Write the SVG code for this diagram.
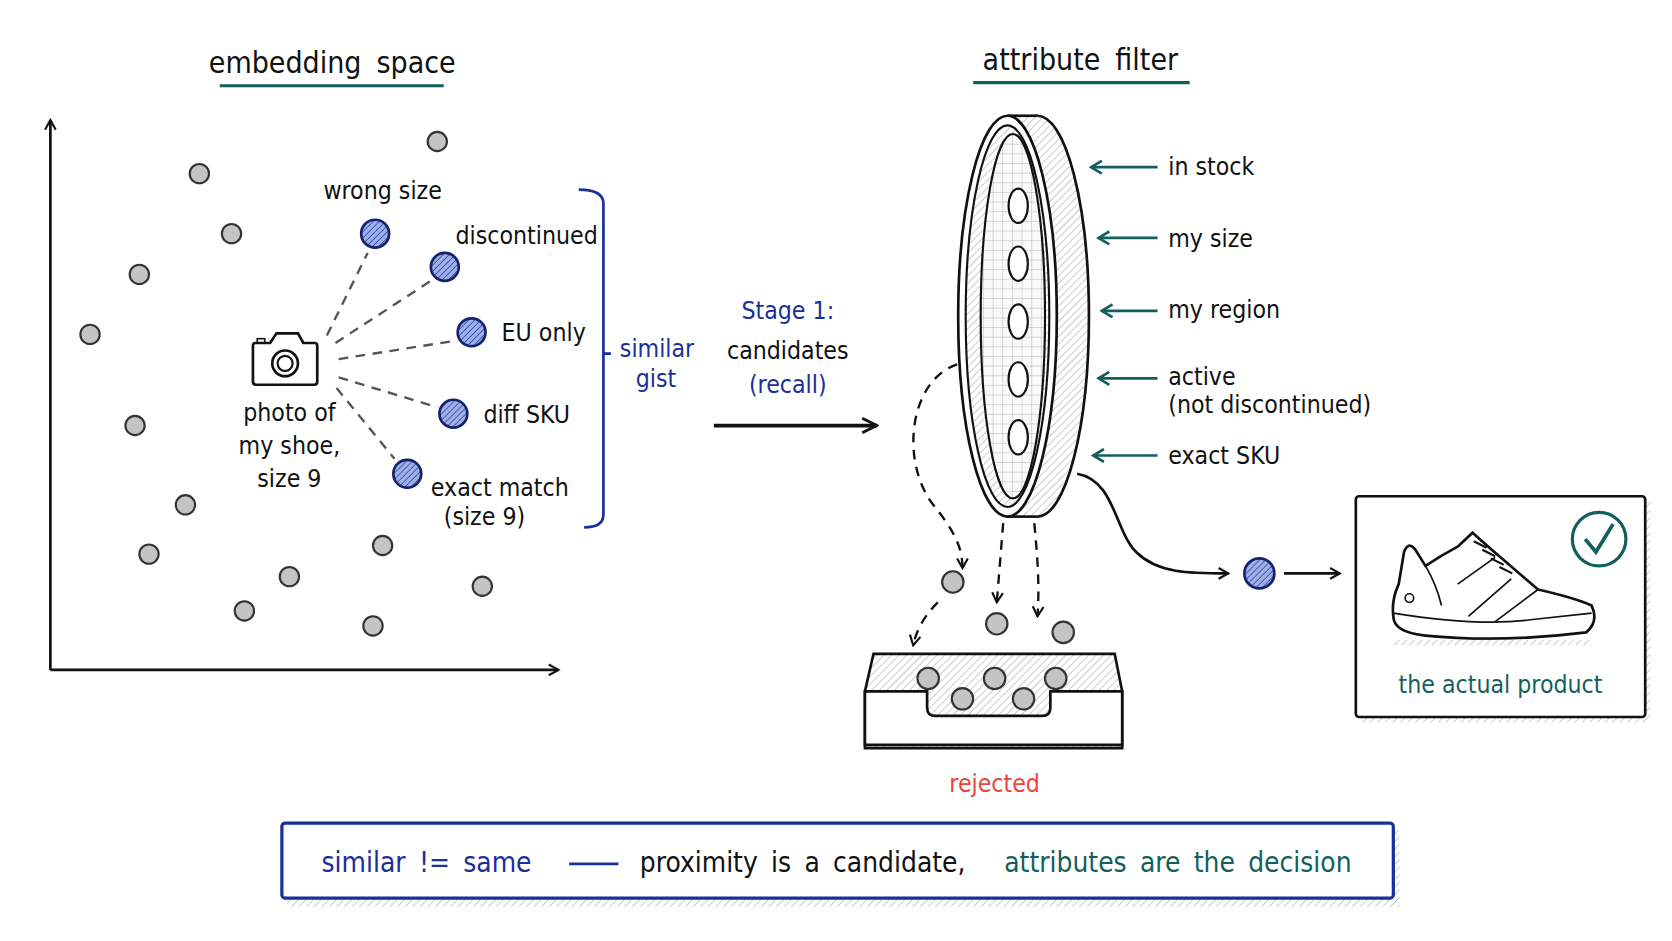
<svg xmlns="http://www.w3.org/2000/svg" width="1672" height="941" viewBox="0 0 1672 941">
<style>
text{font-family:"DejaVu Sans Condensed","Liberation Sans Narrow","Liberation Sans",sans-serif;font-size:23px;fill:#111}
.blue{fill:#1a2f9a}.teal{fill:#135f5c}.red{fill:#e8453c}
.gdot{fill:#c4c4c4;stroke:#333;stroke-width:2}
.bdot{fill:url(#hb);stroke:#14236b;stroke-width:2.5}
.dash{stroke:#555;stroke-width:2.2;stroke-dasharray:9 7;fill:none}
.kdash{stroke:#111;stroke-width:2.2;stroke-dasharray:9 7;fill:none}
.ln{stroke:#111;stroke-width:2.5;fill:none}
.tarr{stroke:#135f5c;stroke-width:2.5;fill:none;marker-end:url(#mt)}
.big{font-size:28px;word-spacing:6px}
.sum{font-size:26px;word-spacing:5px}
</style>
<defs>
<pattern id="hb" width="4" height="4" patternUnits="userSpaceOnUse" patternTransform="rotate(45)"><rect width="4" height="4" fill="#9fb0e8"/><line x1="0" y1="0" x2="0" y2="4" stroke="#1a2f9a" stroke-width="1.2"/></pattern>
<pattern id="hg" width="5" height="5" patternUnits="userSpaceOnUse" patternTransform="rotate(45)"><rect width="5" height="5" fill="#fff"/><line x1="0" y1="0" x2="0" y2="5" stroke="#888" stroke-width="0.8"/></pattern>
<pattern id="grid" width="9" height="9" patternUnits="userSpaceOnUse"><rect width="9" height="9" fill="#fafafa"/><path d="M9 0V9M0 9H9" stroke="#999" stroke-width="0.7"/></pattern>
<marker id="mk" viewBox="0 0 12 12" refX="10" refY="6" markerWidth="12" markerHeight="12" markerUnits="userSpaceOnUse" orient="auto"><path d="M1 1L10 6L1 11" fill="none" stroke="#111" stroke-width="2"/></marker>
<marker id="mbig" viewBox="0 0 16 16" refX="14" refY="8" markerWidth="18" markerHeight="18" markerUnits="userSpaceOnUse" orient="auto"><path d="M2 2L14 8L2 14" fill="none" stroke="#111" stroke-width="2.5"/></marker>
<marker id="mt" viewBox="0 0 14 14" refX="12" refY="7" markerWidth="14" markerHeight="14" markerUnits="userSpaceOnUse" orient="auto"><path d="M2 1L12 7L2 13" fill="none" stroke="#135f5c" stroke-width="2.5"/></marker>
</defs>
<rect width="1672" height="941" fill="#fff"/>
<g transform="scale(1.0718)">
<g id="titles">
<text x="310" y="68" text-anchor="middle" class="big" font-size="30">embedding space</text>
<line x1="205" y1="80" x2="414" y2="80" stroke="#135f5c" stroke-width="3"/>
<text x="1008" y="65" text-anchor="middle" class="big" font-size="30">attribute filter</text>
<line x1="908" y1="77" x2="1110" y2="77" stroke="#135f5c" stroke-width="3"/>
</g>
<g id="axes">
<line class="ln" x1="47" y1="625" x2="47" y2="112" marker-end="url(#mk)"/>
<line class="ln" x1="47" y1="625" x2="521" y2="625" marker-end="url(#mk)"/>
</g>
<g id="connectors">
<line class="dash" x1="305" y1="313" x2="343" y2="236"/>
<line class="dash" x1="313" y1="320" x2="402" y2="262"/>
<line class="dash" x1="316" y1="335" x2="424" y2="318"/>
<line class="dash" x1="316" y1="352" x2="408" y2="380"/>
<line class="dash" x1="314" y1="362" x2="368" y2="428"/>
<line x1="666" y1="397" x2="818" y2="397" stroke="#111" stroke-width="3.5" marker-end="url(#mbig)"/>
<line class="tarr" x1="1080" y1="156" x2="1018" y2="156"/>
<line class="tarr" x1="1080" y1="222" x2="1025" y2="222"/>
<line class="tarr" x1="1080" y1="290" x2="1028" y2="290"/>
<line class="tarr" x1="1080" y1="353" x2="1025" y2="353"/>
<line class="tarr" x1="1080" y1="425" x2="1020" y2="425"/>
<path class="kdash" d="M893 340 C848 355 840 430 870 470 C890 495 898 510 898 530" marker-end="url(#mk)"/>
<path class="kdash" d="M936 488 L930 562" marker-end="url(#mk)"/>
<path class="kdash" d="M965 488 C968 520 970 545 968 575" marker-end="url(#mk)"/>
<path class="kdash" d="M875 562 C862 575 855 588 852 602" marker-end="url(#mk)"/>
<path class="ln" d="M1005 442 C1040 448 1040 495 1060 515 C1080 535 1110 535 1146 535" marker-end="url(#mk)"/>
<line class="ln" x1="1198" y1="535" x2="1250" y2="535" marker-end="url(#mk)"/>
</g>
<g id="gray-dots">
<circle class="gdot" cx="408" cy="132" r="9"/><circle class="gdot" cx="186" cy="162" r="9"/>
<circle class="gdot" cx="216" cy="218" r="9"/><circle class="gdot" cx="130" cy="256" r="9"/>
<circle class="gdot" cx="84" cy="312" r="9"/><circle class="gdot" cx="126" cy="397" r="9"/>
<circle class="gdot" cx="173" cy="471" r="9"/><circle class="gdot" cx="139" cy="517" r="9"/>
<circle class="gdot" cx="270" cy="538" r="9"/><circle class="gdot" cx="357" cy="509" r="9"/>
<circle class="gdot" cx="228" cy="570" r="9"/><circle class="gdot" cx="348" cy="584" r="9"/>
<circle class="gdot" cx="450" cy="547" r="9"/>
</g>
<g id="near-dots">
<circle class="bdot" cx="350" cy="218" r="13"/><text x="357" y="186" text-anchor="middle" font-size="19">wrong size</text>
<circle class="bdot" cx="415" cy="249" r="13"/><text x="425" y="228" font-size="19">discontinued</text>
<circle class="bdot" cx="440" cy="310" r="13"/><text x="468" y="318">EU only</text>
<circle class="bdot" cx="423" cy="386" r="13"/><text x="451" y="395">diff SKU</text>
<circle class="bdot" cx="380" cy="442" r="13"/><text x="402" y="463" font-size="19">exact match</text><text x="452" y="490" text-anchor="middle" font-size="19">(size 9)</text>
</g>
<g id="camera">
<path d="M238 320 H252 L258 311 H278 L283 320 H294 Q296 320 296 323 V356 Q296 359 293 359 H239 Q236 359 236 356 V323 Q236 320 238 320Z" fill="#fff" stroke="#111" stroke-width="2.5"/>
<rect x="240" y="316" width="7" height="4" fill="none" stroke="#111" stroke-width="1.5"/>
<circle cx="266" cy="339" r="12" fill="none" stroke="#111" stroke-width="2.5"/>
<circle cx="266" cy="339" r="7" fill="none" stroke="#111" stroke-width="2"/>
<text x="270" y="393" text-anchor="middle">photo of</text>
<text x="270" y="424" text-anchor="middle">my shoe,</text>
<text x="270" y="454" text-anchor="middle">size 9</text>
</g>
<g id="bracket">
<path d="M540 177 Q563 177 563 190 V480 Q563 492 545 492 M563 330 H570" fill="none" stroke="#1a2f9a" stroke-width="2.5"/>
<text class="blue" x="613" y="333" text-anchor="middle">similar</text>
<text class="blue" x="612" y="361" text-anchor="middle">gist</text>
</g>
<g id="stage">
<text class="blue" x="735" y="298" text-anchor="middle" font-size="27">Stage 1:</text>
<text x="735" y="335" text-anchor="middle" font-size="27">candidates</text>
<text class="blue" x="735" y="367" text-anchor="middle" font-size="25">(recall)</text>
</g>
<g id="filter">
<ellipse cx="968" cy="295" rx="48" ry="187" fill="url(#hg)" stroke="#111" stroke-width="2.5"/>
<rect x="940" y="108" width="28" height="374" fill="url(#hg)"/>
<line x1="940" y1="108" x2="968" y2="108" stroke="#111" stroke-width="2.5"/>
<line x1="940" y1="482" x2="968" y2="482" stroke="#111" stroke-width="2.5"/>
<ellipse cx="940" cy="295" rx="46" ry="187" fill="#fff" stroke="#111" stroke-width="2.5"/>
<ellipse cx="940" cy="295" rx="39" ry="178" fill="url(#hg)" stroke="#111" stroke-width="2"/>
<ellipse cx="945" cy="295" rx="30" ry="170" fill="url(#grid)" stroke="#111" stroke-width="2"/>
<g fill="#fff" stroke="#111" stroke-width="2">
<ellipse cx="950" cy="192" rx="9" ry="16"/><ellipse cx="950" cy="246" rx="9" ry="16"/>
<ellipse cx="950" cy="300" rx="9" ry="16"/><ellipse cx="950" cy="354" rx="9" ry="16"/>
<ellipse cx="950" cy="408" rx="9" ry="16"/></g>
<text x="1090" y="163">in stock</text><text x="1090" y="230">my size</text>
<text x="1090" y="297">my region</text><text x="1090" y="359">active</text>
<text x="1090" y="385" font-size="19">(not discontinued)</text><text x="1090" y="433">exact SKU</text>
</g>
<g id="rejected">
<circle class="gdot" cx="889" cy="543" r="10"/><circle class="gdot" cx="930" cy="582" r="10"/><circle class="gdot" cx="992" cy="590" r="10"/>
<path d="M807 645 L815 610 H1040 L1047 645 V698 H807Z" fill="url(#hg)" stroke="#111" stroke-width="2.5"/>
<path d="M807 645 H865 V660 Q865 668 873 668 H972 Q980 668 980 660 V645 H1047 V695 H807Z" fill="#fff" stroke="#111" stroke-width="2.5"/>
<circle class="gdot" cx="866" cy="633" r="10"/><circle class="gdot" cx="928" cy="633" r="10"/><circle class="gdot" cx="985" cy="633" r="10"/>
<circle class="gdot" cx="898" cy="652" r="10"/><circle class="gdot" cx="955" cy="652" r="10"/>
<text class="red" x="928" y="739" text-anchor="middle" font-size="25">rejected</text>
</g>
<g id="result-dot"><circle class="bdot" cx="1175" cy="535" r="14"/></g>
<g id="product">
<rect x="1270" y="468" width="270" height="206" fill="url(#hg)"/>
<rect x="1265" y="463" width="270" height="206" rx="3" fill="#fff" stroke="#111" stroke-width="2.5"/>
<circle cx="1492" cy="503" r="25" fill="none" stroke="#135f5c" stroke-width="3"/>
<path d="M1479 503 L1489 515 L1505 489" fill="none" stroke="#135f5c" stroke-width="3.5"/>
<path d="M1300 575 Q1298 560 1305 545 L1310 515 Q1314 505 1320 512 L1330 528 Q1345 518 1360 510 L1374 497 Q1385 507 1400 520 L1435 550 Q1470 558 1485 565 Q1492 580 1480 590 Q1400 600 1330 593 Q1300 590 1300 575Z" fill="#fff" stroke="#111" stroke-width="2.5"/>
<path d="M1300 572 Q1380 585 1430 578 L1485 572 M1330 528 Q1340 545 1345 565 M1360 545 L1395 520 M1370 575 L1410 540 M1395 580 L1435 550" fill="none" stroke="#111" stroke-width="1.6"/>
<circle cx="1315" cy="558" r="4" fill="none" stroke="#111" stroke-width="1.5"/>
<path d="M1375 505 l12 6 M1383 513 l12 6 M1391 521 l12 6 M1399 529 l12 6" stroke="#111" stroke-width="2"/>
<rect x="1300" y="597" width="185" height="5" fill="url(#hg)"/>
<text class="teal" x="1400" y="647" text-anchor="middle" font-size="27">the actual product</text>
</g>
<g id="summary">
<rect x="268" y="774" width="1038" height="72" fill="url(#hg)"/>
<rect x="263" y="768" width="1037" height="70" rx="3" fill="#fff" stroke="#1a2f9a" stroke-width="3"/>
<text class="blue sum" x="300" y="814">similar != same</text>
<line x1="531" y1="806" x2="577" y2="806" stroke="#1a2f9a" stroke-width="2.5"/>
<text class="sum" x="597" y="814">proximity is a candidate,</text>
<text class="teal sum" x="937" y="814">attributes are the decision</text>
</g>
</g>
</svg>
